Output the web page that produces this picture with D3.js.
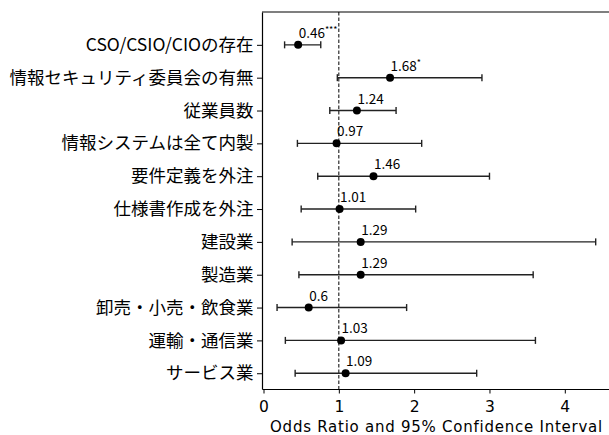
<!DOCTYPE html>
<html>
<head>
<meta charset="utf-8">
<script src="https://cdn.jsdelivr.net/npm/d3@7"></script>
<style>
  body { margin: 0; background: #fff; }
  svg { display: block; font-family: "Noto Sans CJK JP", "Noto Sans", sans-serif; }
</style>
</head>
<body>
<div id="draw_here"></div>
<script type="text/javascript">
    // Data
    var labels = ["CSO/CSIO/CIOの存在", "情報セキュリティ委員会の有無", "従業員数", "情報システムは全て内製",
        "要件定義を外注", "仕様書作成を外注", "建設業", "製造業", "卸売・小売・飲食業", "運輸・通信業", "サービス業"]
    var oddsRatio = [0.46, 1.68, 1.24, 0.97, 1.46, 1.01, 1.29, 1.29, 0.6, 1.03, 1.09]
    var ciLow  = [0.28, 0.98, 0.88, 0.45, 0.72, 0.50, 0.38, 0.47, 0.18, 0.29, 0.42]
    var ciHigh = [0.76, 2.90, 1.76, 2.10, 3.00, 2.02, 4.41, 3.58, 1.90, 3.61, 2.83]
    var stars  = ["***", "*", "", "", "", "", "", "", "", "", ""]
    var xTicks = [0, 1, 2, 3, 4]

    canvas = ({width: 609, height: 435})
    margin = ({top: 12, right: -1, bottom: 46, left: 262})
    ink = "#000"
    font = "Noto Sans CJK JP"
    latin = "DejaVu Sans"

    var data = labels.map((d, i) => ({label: d, or: oddsRatio[i], lo: ciLow[i], hi: ciHigh[i], star: stars[i], i: i}))

    x = d3.scaleLinear()
        .domain([-0.02, 4.6])
        .range([margin.left, canvas.width - margin.right])

    y = d3.scaleLinear()
        .domain([-1, 10.48])
        .range([margin.top, canvas.height - margin.bottom])

    var svg = d3.select("div#draw_here").append("svg")
        .attr("width", canvas.width)
        .attr("height", canvas.height)
        .attr("viewBox", [0, 0, canvas.width, canvas.height]);

    // reference line at odds ratio 1
    svg.append("line")
        .attr("x1", x(1)).attr("x2", x(1))
        .attr("y1", margin.top).attr("y2", canvas.height - margin.bottom)
        .attr("stroke", ink)
        .attr("stroke-width", 1)
        .attr("stroke-dasharray", "3.5,2");

    // error bars
    var rows = svg.append("g").selectAll("g")
        .data(data)
        .join("g");

    rows.append("line")
        .attr("x1", d => x(d.lo)).attr("x2", d => x(d.hi))
        .attr("y1", d => y(d.i)).attr("y2", d => y(d.i))
        .attr("stroke", "#222").attr("stroke-width", 1.4);

    rows.selectAll("line.cap")
        .data(d => [{v: d.lo, i: d.i}, {v: d.hi, i: d.i}])
        .join("line")
        .attr("class", "cap")
        .attr("x1", d => x(d.v)).attr("x2", d => x(d.v))
        .attr("y1", d => y(d.i) - 3.5).attr("y2", d => y(d.i) + 3.5)
        .attr("stroke", "#222").attr("stroke-width", 1.4);

    rows.append("circle")
        .attr("cx", d => x(d.or))
        .attr("cy", d => y(d.i))
        .attr("r", 4)
        .attr("fill", ink);

    var lbl = rows.append("text")
        .attr("x", d => x(d.or) + 0.5)
        .attr("y", d => y(d.i) - 7)
        .attr("font-size", 13.5)
        .attr("font-family", font)
        .attr("fill", ink);
    lbl.append("tspan").text(d => d.or);
    lbl.append("tspan")
        .attr("font-size", 9)
        .attr("dy", -5)
        .text(d => d.star);

    // axes
    xAxis = g => g
        .attr("transform", `translate(0,${canvas.height - margin.bottom})`)
        .call(d3.axisBottom(x).tickValues(xTicks).tickFormat(d3.format("d")).tickSize(4.5).tickPadding(7).tickSizeOuter(0))
        .call(g => g.select(".domain").attr("stroke-width", 1.2))
        .call(g => g.selectAll("text").attr("font-size", 15.5).attr("fill", ink).attr("font-family", latin))

    yAxis = g => g
        .attr("transform", `translate(${margin.left},0)`)
        .call(d3.axisLeft(y).tickValues(d3.range(labels.length)).tickFormat(i => labels[i]).tickSize(5).tickPadding(3.5).tickSizeOuter(0))
        .call(g => g.select(".domain").attr("stroke-width", 1.2))
        .call(g => g.selectAll("text").attr("font-size", 17.5).attr("fill", ink).attr("font-family", font))

    svg.append("g").call(xAxis);
    svg.append("g").call(yAxis);

    // top spine
    svg.append("line")
        .attr("x1", margin.left).attr("x2", canvas.width)
        .attr("y1", margin.top).attr("y2", margin.top)
        .attr("stroke", ink).attr("stroke-width", 1.2);

    svg.append("text")
        .attr("x", 436.5)
        .attr("y", canvas.height - 3.5)
        .attr("text-anchor", "middle")
        .attr("font-size", 15)
        .attr("letter-spacing", 0.75)
        .attr("font-family", latin)
        .attr("fill", ink)
        .text("Odds Ratio and 95% Confidence Interval");
</script>
</body>
</html>
